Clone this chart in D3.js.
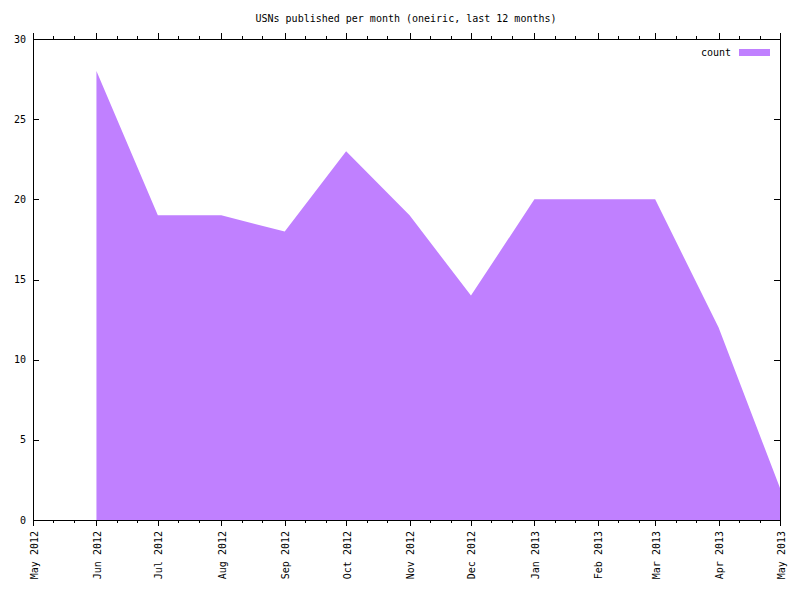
<!DOCTYPE html>
<html>
<head>
<meta charset="utf-8">
<script src="https://cdn.jsdelivr.net/npm/d3@7"></script>
<style>
  html, body { margin: 0; padding: 0; background: #fff; }
  text { font-family: "DejaVu Sans Mono", monospace; font-size: 10px; fill: #000; }
</style>
</head>
<body>
<svg id="chart" width="800" height="600"></svg>
<script>
// ---- data ----
const months = ["2012-06", "2012-07", "2012-08", "2012-09", "2012-10", "2012-11",
                "2012-12", "2013-01", "2013-02", "2013-03", "2013-04", "2013-05"];
const counts = [28, 19, 19, 18, 23, 19, 14, 20, 20, 20, 12, 2];
const yTicks = [0, 5, 10, 15, 20, 25, 30];
const xDomain = ["2012-05", "2013-05"];
const titleText = "USNs published per month (oneiric, last 12 months)";
const seriesName = "count";

// ---- layout ----
const W = 800, H = 600;
const mL = 33, mR = 780, mT = 39, mB = 520;
const fillColor = "#c080ff";
const parse = d3.timeParse("%Y-%m");
const data = months.map((m, i) => ({ date: parse(m), value: counts[i] }));

const svg = d3.select("#chart");
svg.append("rect").attr("width", W).attr("height", H).attr("fill", "#fff");

const x = d3.scaleTime().domain(xDomain.map(parse)).range([mL, mR]);
const y = d3.scaleLinear().domain([0, 30]).range([mB, mT]);

// area
const area = d3.area().x(d => x(d.date)).y0(y(0)).y1(d => y(d.value));
svg.append("path").datum(data).attr("d", area).attr("fill", fillColor);

// ticks
const majorX = d3.timeMonth.range(parse(xDomain[0]), d3.timeDay.offset(parse(xDomain[1]), 1));
const minorX = [];
d3.timeMonth.range(parse(xDomain[0]), parse(xDomain[1])).forEach(m => {
  minorX.push(d3.timeDay.offset(m, 10));
  minorX.push(d3.timeDay.offset(m, 20));
});
const fmt = d3.timeFormat("%b %Y");

const g = svg.append("g").attr("shape-rendering", "crispEdges").attr("stroke", "#000").attr("stroke-width", 1);
majorX.forEach(d => {
  const xx = Math.round(x(d)) + 0.5;
  g.append("line").attr("x1", xx).attr("x2", xx).attr("y1", mB).attr("y2", mB + 6);
  g.append("line").attr("x1", xx).attr("x2", xx).attr("y1", mT).attr("y2", mT - 6);
});
minorX.forEach(d => {
  const xx = Math.round(x(d)) + 0.5;
  g.append("line").attr("x1", xx).attr("x2", xx).attr("y1", mB).attr("y2", mB + 3);
  g.append("line").attr("x1", xx).attr("x2", xx).attr("y1", mT).attr("y2", mT - 3);
});
yTicks.forEach(v => {
  const yy = Math.round(y(v)) + 0.5;
  g.append("line").attr("x1", mL).attr("x2", mL + 6).attr("y1", yy).attr("y2", yy);
  g.append("line").attr("x1", mR - 6).attr("x2", mR).attr("y1", yy).attr("y2", yy);
});
g.append("rect").attr("x", mL + 0.5).attr("y", mT + 0.5)
  .attr("width", mR - mL).attr("height", mB - mT)
  .attr("fill", "none");

// y labels
svg.append("g").selectAll("text").data(yTicks).join("text")
  .attr("x", mL - 7).attr("y", d => y(d)).attr("dy", "0.35em")
  .attr("text-anchor", "end").text(d => d);

// x labels
svg.append("g").selectAll("text").data(majorX).join("text")
  .attr("transform", d => `translate(${x(d) + 1},${mB + 11}) rotate(-90)`)
  .attr("dy", "0.35em").attr("text-anchor", "end").text(d => fmt(d));

// title
svg.append("text").attr("x", 406).attr("y", 22).attr("text-anchor", "middle").text(titleText);

// legend
svg.append("text").attr("x", 731).attr("y", 56).attr("text-anchor", "end").text(seriesName);
svg.append("rect").attr("x", 739).attr("y", 49).attr("width", 31).attr("height", 7).attr("fill", fillColor);
</script>
</body>
</html>
